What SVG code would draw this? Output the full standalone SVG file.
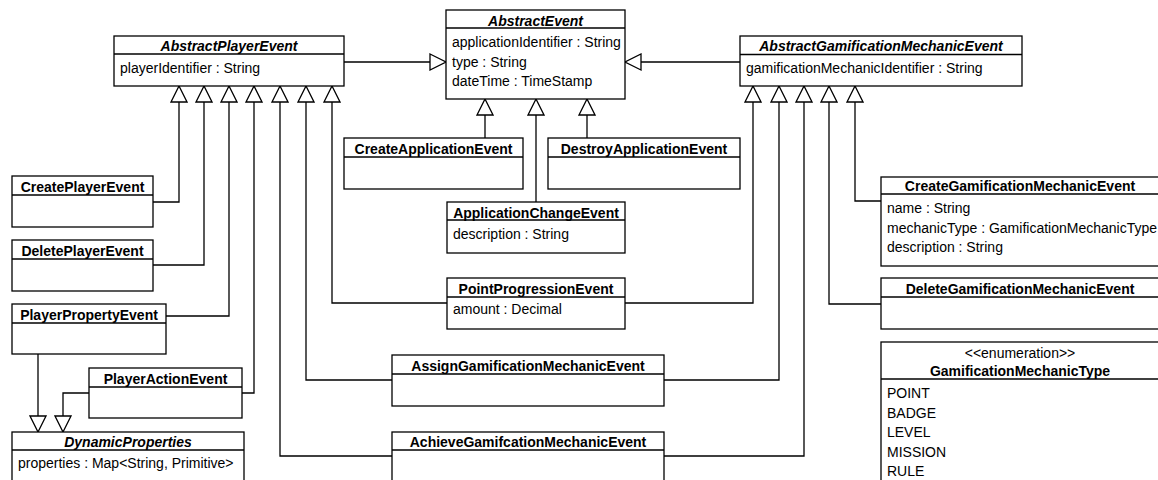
<svg xmlns="http://www.w3.org/2000/svg" width="1158" height="480" viewBox="0 0 1158 480">
<style>
.box{fill:#fff;stroke:#000;stroke-width:1.3}
.div{stroke:#000;stroke-width:1.3}
.t{font-family:"Liberation Sans",Arial,sans-serif;font-size:14px;fill:#000}
.b{font-weight:bold;text-anchor:middle}
.i{font-style:italic}
.c{text-anchor:middle}
.e{fill:none;stroke:#000;stroke-width:1.3}
</style>
<defs>
<marker id="tri" markerUnits="userSpaceOnUse" markerWidth="18" markerHeight="18" viewBox="-1 -1 18 18" refX="16" refY="8" orient="auto">
<path d="M0,0 L16,8 L0,16 Z" fill="#fff" stroke="#000" stroke-width="1.3"/>
</marker>
</defs>
<rect width="1158" height="480" fill="#fff"/>
<g id="connectors">
<path class="e" marker-end="url(#tri)" d="M344,62 H446"/>
<path class="e" marker-end="url(#tri)" d="M740,62 H625"/>
<path class="e" marker-end="url(#tri)" d="M485,138 V99"/>
<path class="e" marker-end="url(#tri)" d="M536,202 V99"/>
<path class="e" marker-end="url(#tri)" d="M587,138 V99"/>
<path class="e" marker-end="url(#tri)" d="M153,202 H179 V86"/>
<path class="e" marker-end="url(#tri)" d="M153,265 H204 V86"/>
<path class="e" marker-end="url(#tri)" d="M166,316 H229 V86"/>
<path class="e" marker-end="url(#tri)" d="M242,393 H254 V86"/>
<path class="e" marker-end="url(#tri)" d="M392,456 H280 V86"/>
<path class="e" marker-end="url(#tri)" d="M392,380 H306 V86"/>
<path class="e" marker-end="url(#tri)" d="M447,303 H332 V86"/>
<path class="e" marker-end="url(#tri)" d="M625,303 H753 V86"/>
<path class="e" marker-end="url(#tri)" d="M664,380 H779 V86"/>
<path class="e" marker-end="url(#tri)" d="M664,456 H804 V86"/>
<path class="e" marker-end="url(#tri)" d="M881,304 H829 V86"/>
<path class="e" marker-end="url(#tri)" d="M881,201 H855 V86"/>
<path class="e" marker-end="url(#tri)" d="M38,354 V432"/>
<path class="e" marker-end="url(#tri)" d="M89,393 H63 V432"/>
</g>
<g id="AbstractPlayerEvent">
<rect class="box" x="114" y="36" width="230" height="50"/>
<line class="div" x1="114" y1="54" x2="344" y2="54"/>
<text class="t b i" x="229" y="51">AbstractPlayerEvent</text>
<text class="t" x="120" y="73">playerIdentifier : String</text>
</g>
<g id="AbstractEvent">
<rect class="box" x="446" y="10" width="179" height="89"/>
<line class="div" x1="446" y1="28" x2="625" y2="28"/>
<text class="t b i" x="535.5" y="25.5">AbstractEvent</text>
<text class="t" x="452" y="47">applicationIdentifier : String</text>
<text class="t" x="452" y="66.5">type : String</text>
<text class="t" x="452" y="86">dateTime : TimeStamp</text>
</g>
<g id="AbstractGamificationMechanicEvent">
<rect class="box" x="740" y="36" width="282" height="50"/>
<line class="div" x1="740" y1="54.5" x2="1022" y2="54.5"/>
<text class="t b i" x="881" y="51">AbstractGamificationMechanicEvent</text>
<text class="t" x="746" y="73">gamificationMechanicIdentifier : String</text>
</g>
<g id="CreateApplicationEvent">
<rect class="box" x="344" y="138" width="179" height="51"/>
<line class="div" x1="344" y1="157" x2="523" y2="157"/>
<text class="t b" x="433.5" y="154">CreateApplicationEvent</text>
</g>
<g id="DestroyApplicationEvent">
<rect class="box" x="548" y="138" width="192" height="51"/>
<line class="div" x1="548" y1="157" x2="740" y2="157"/>
<text class="t b" x="644" y="154">DestroyApplicationEvent</text>
</g>
<g id="ApplicationChangeEvent">
<rect class="box" x="447" y="202" width="178" height="51"/>
<line class="div" x1="447" y1="220" x2="625" y2="220"/>
<text class="t b" x="536" y="217.5">ApplicationChangeEvent</text>
<text class="t" x="453" y="238.5">description : String</text>
</g>
<g id="PointProgressionEvent">
<rect class="box" x="447" y="278" width="178" height="51"/>
<line class="div" x1="447" y1="297" x2="625" y2="297"/>
<text class="t b" x="536" y="294">PointProgressionEvent</text>
<text class="t" x="453" y="314">amount : Decimal</text>
</g>
<g id="CreatePlayerEvent">
<rect class="box" x="12" y="176" width="141" height="51"/>
<line class="div" x1="12" y1="195" x2="153" y2="195"/>
<text class="t b" x="82.5" y="192">CreatePlayerEvent</text>
</g>
<g id="DeletePlayerEvent">
<rect class="box" x="12" y="240" width="141" height="51"/>
<line class="div" x1="12" y1="259" x2="153" y2="259"/>
<text class="t b" x="82.5" y="256">DeletePlayerEvent</text>
</g>
<g id="PlayerPropertyEvent">
<rect class="box" x="12" y="304" width="154" height="50"/>
<line class="div" x1="12" y1="323" x2="166" y2="323"/>
<text class="t b" x="89" y="320">PlayerPropertyEvent</text>
</g>
<g id="PlayerActionEvent">
<rect class="box" x="89" y="368" width="153" height="50"/>
<line class="div" x1="89" y1="387" x2="242" y2="387"/>
<text class="t b" x="165.5" y="384">PlayerActionEvent</text>
</g>
<g id="DynamicProperties">
<rect class="box" x="12" y="432" width="232" height="60"/>
<line class="div" x1="12" y1="450" x2="244" y2="450"/>
<text class="t b i" x="128" y="447">DynamicProperties</text>
<text class="t" x="18" y="468">properties : Map&lt;String, Primitive&gt;</text>
</g>
<g id="AssignGamificationMechanicEvent">
<rect class="box" x="392" y="355" width="272" height="51"/>
<line class="div" x1="392" y1="374" x2="664" y2="374"/>
<text class="t b" x="528" y="371">AssignGamificationMechanicEvent</text>
</g>
<g id="AchieveGamifcationMechanicEvent">
<rect class="box" x="392" y="432" width="272" height="60"/>
<line class="div" x1="392" y1="450" x2="664" y2="450"/>
<text class="t b" x="528" y="447">AchieveGamifcationMechanicEvent</text>
</g>
<g id="CreateGamificationMechanicEvent">
<rect class="box" x="881" y="177" width="278" height="89"/>
<line class="div" x1="881" y1="194" x2="1159" y2="194"/>
<text class="t b" x="1020" y="191">CreateGamificationMechanicEvent</text>
<text class="t" x="887" y="213">name : String</text>
<text class="t" x="887" y="232.5">mechanicType : GamificationMechanicType</text>
<text class="t" x="887" y="252">description : String</text>
</g>
<g id="DeleteGamificationMechanicEvent">
<rect class="box" x="881" y="278" width="278" height="51"/>
<line class="div" x1="881" y1="297" x2="1159" y2="297"/>
<text class="t b" x="1020" y="294">DeleteGamificationMechanicEvent</text>
</g>
<g id="GamificationMechanicType">
<rect class="box" x="881" y="342" width="278" height="150"/>
<line class="div" x1="881" y1="379" x2="1159" y2="379"/>
<text class="t c" x="1020" y="358">&lt;&lt;enumeration&gt;&gt;</text>
<text class="t b" x="1020" y="376">GamificationMechanicType</text>
<text class="t" x="887" y="398">POINT</text>
<text class="t" x="887" y="418">BADGE</text>
<text class="t" x="887" y="437">LEVEL</text>
<text class="t" x="887" y="457">MISSION</text>
<text class="t" x="887" y="476">RULE</text>
</g>
</svg>
